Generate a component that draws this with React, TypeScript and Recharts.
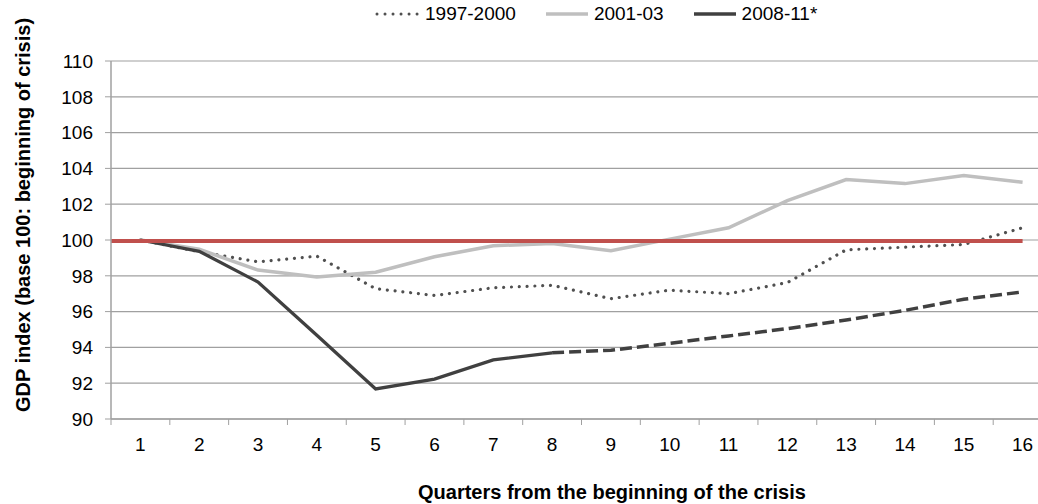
import React from 'react';
import { LineChart, Line, XAxis, YAxis, CartesianGrid, ReferenceLine } from 'recharts';

const quarters = ['1', '2', '3', '4', '5', '6', '7', '8', '9', '10', '11', '12', '13', '14', '15', '16'];
const crisis1997 = [100, 99.35, 98.78, 99.1, 97.28, 96.9, 97.33, 97.47, 96.72, 97.2, 97.0, 97.62, 99.45, 99.6, 99.75, 100.68];
const crisis2001 = [100, 99.48, 98.32, 97.93, 98.2, 99.06, 99.68, 99.8, 99.4, 100.05, 100.68, 102.2, 103.38, 103.15, 103.6, 103.23];
const crisis2008 = [100, 99.37, 97.65, 94.68, 91.68, 92.23, 93.3, 93.7, null, null, null, null, null, null, null, null];
const crisis2008f = [null, null, null, null, null, null, null, 93.7, 93.84, 94.23, 94.64, 95.05, 95.53, 96.07, 96.69, 97.1];
const yTicks = [90, 92, 94, 96, 98, 100, 102, 104, 106, 108, 110];

const yTitle = 'GDP index (base 100: beginning of crisis)';
const xTitle = 'Quarters from the beginning of the crisis';

const GRID = '#a0a0a0';
const DOTTED = '#505050';
const LIGHT = '#bfbfbf';
const DARK = '#404040';
const RED = '#c0504d';

const data = quarters.map((q, i) => ({
  q,
  a: crisis1997[i],
  b: crisis2001[i],
  c: crisis2008[i],
  cf: crisis2008f[i],
}));

const legendItems = [
  { name: '1997-2000', color: DOTTED, dash: '0.01 8', width: 3 },
  { name: '2001-03', color: LIGHT, dash: undefined, width: 3.5 },
  { name: '2008-11*', color: DARK, dash: undefined, width: 3.5 },
];

const QuarterTick = (props: any) => {
  const { x, y, payload } = props;
  const half = payload?.offset ?? 0;
  return (
    <g>
      <line x1={x - half} x2={x - half} y1={y - 19} y2={y - 13} stroke={GRID} />
      <text x={x} y={y} dy="0.71em" textAnchor="middle" fontSize={19} fill="#000">
        {payload.value}
      </text>
    </g>
  );
};

// red base line: from the y axis to the last quarter
const BaseLine = (p: any) => {
  const half = (p.x2 - p.x1) / 30;
  return <line x1={p.x1 - half} x2={p.x2} y1={p.y1 + 1} y2={p.y2 + 1} stroke={RED} strokeWidth={4} />;
};

const App: React.FC = () => {
  return (
    <div
      style={{
        position: 'fixed',
        left: 0,
        top: 0,
        width: 1038,
        height: 504,
        overflow: 'hidden',
        background: '#fff',
        fontFamily: '"Liberation Sans", Arial, sans-serif',
      }}
    >
      <div
        style={{
          position: 'absolute',
          left: 375,
          top: 3,
          height: 22,
          display: 'flex',
          alignItems: 'center',
          fontSize: 19,
          color: '#000',
          whiteSpace: 'nowrap',
        }}
      >
        {legendItems.map((it) => (
          <div key={it.name} style={{ display: 'flex', alignItems: 'center', marginRight: 28 }}>
            <svg width={46} height={8} style={{ marginRight: 4 }}>
              <line
                x1={2}
                x2={44}
                y1={4}
                y2={4}
                stroke={it.color}
                strokeWidth={it.width}
                strokeDasharray={it.dash}
                strokeLinecap={it.dash ? 'round' : 'butt'}
              />
            </svg>
            <span>{it.name}</span>
          </div>
        ))}
      </div>

      <div
        style={{
          position: 'absolute',
          left: 23,
          top: 215,
          transform: 'translate(-50%, -50%) rotate(-90deg)',
          fontSize: 20,
          fontWeight: 'bold',
          whiteSpace: 'nowrap',
          color: '#000',
        }}
      >
        {yTitle}
      </div>

      <div
        style={{
          position: 'absolute',
          left: 418,
          top: 481,
          lineHeight: '22px',
          fontSize: 20,
          fontWeight: 'bold',
          whiteSpace: 'nowrap',
          color: '#000',
        }}
      >
        {xTitle}
      </div>

      <LineChart width={1060} height={504} data={data} margin={{ top: 61, right: 8, left: 0, bottom: 55 }}>
        <CartesianGrid vertical={false} stroke={GRID} strokeWidth={1.2} />
        <XAxis
          dataKey="q"
          scale="band"
          interval={0}
          height={30}
          axisLine={{ stroke: GRID, strokeWidth: 1.5 }}
          tickLine={false}
          tickSize={6}
          tickMargin={13}
          tick={<QuarterTick />}
        />
        <YAxis
          width={111}
          domain={[90, 110]}
          ticks={yTicks}
          interval={0}
          axisLine={{ stroke: GRID, strokeWidth: 1.5 }}
          tickLine={{ stroke: GRID }}
          tickSize={6}
          tickMargin={12}
          tick={{ fontSize: 19, fill: '#000' }}
        />
        <Line dataKey="a" stroke={DOTTED} strokeWidth={3.2} strokeDasharray="0.01 7.8" strokeLinecap="round" dot={false} isAnimationActive={false} />
        <Line dataKey="b" stroke={LIGHT} strokeWidth={3.5} dot={false} isAnimationActive={false} />
        <Line dataKey="c" stroke={DARK} strokeWidth={3.3} dot={false} isAnimationActive={false} />
        <Line dataKey="cf" stroke={DARK} strokeWidth={3.5} strokeDasharray="12 5" dot={false} isAnimationActive={false} />
        <ReferenceLine segment={[{ x: '1', y: 100 }, { x: '16', y: 100 }]} shape={BaseLine} />
      </LineChart>
    </div>
  );
};

export default App;
